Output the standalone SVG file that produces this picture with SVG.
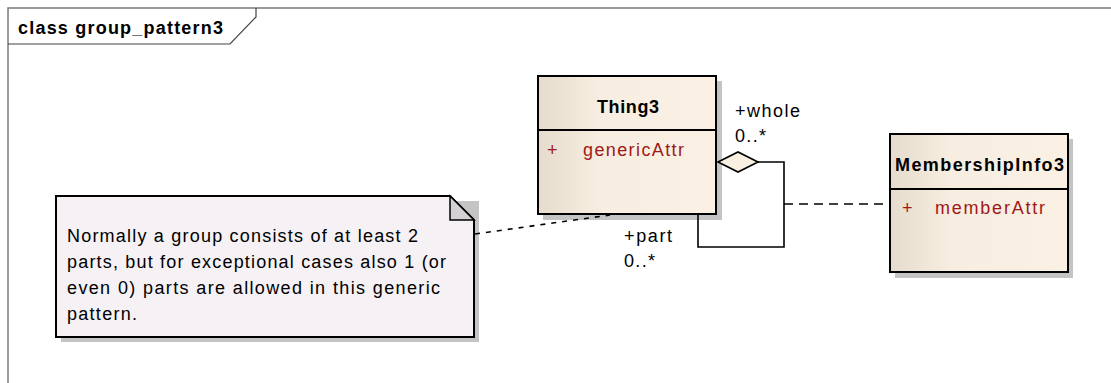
<svg xmlns="http://www.w3.org/2000/svg" width="1111" height="383" viewBox="0 0 1111 383">
<defs>
<linearGradient id="cls" x1="0" y1="0" x2="1" y2="0">
<stop offset="0" stop-color="#E6DCCD"/>
<stop offset="0.35" stop-color="#F7EEE1"/>
<stop offset="1" stop-color="#FAF1E4"/>
</linearGradient>
<style>
text{font-family:"Liberation Sans",Arial,sans-serif;font-size:18px;fill:#000}
.b{font-weight:bold}
.attr{fill:#A01818}
.box{fill:url(#cls);stroke:#000;stroke-width:2}
.shadow{fill:#C4C4C4}
.sep{stroke:#000;stroke-width:2}
.line{fill:none;stroke:#000;stroke-width:1.6}
.dash{fill:none;stroke:#000;stroke-width:1.6;stroke-dasharray:9 6}
.ndash{fill:none;stroke:#000;stroke-width:1.6;stroke-dasharray:5 6}
</style>
</defs>
<rect width="1111" height="383" fill="#fff"/>
<g id="frame">
<path d="M8,383 V8 H1111" fill="none" stroke="#7a7a7a" stroke-width="1.5"/>
<path d="M8,44 H230 L256,17 V8" fill="none" stroke="#444" stroke-width="1.2"/>
<text x="18" y="34" class="b" textLength="205" lengthAdjust="spacing">class group_pattern3</text>
</g>
<g id="Thing3">
<rect class="shadow" x="543" y="81" width="179" height="139"/>
<rect class="box" x="538" y="76" width="178" height="138"/>
<line class="sep" x1="538" y1="130" x2="716" y2="130"/>
<text x="597" y="113" class="b" textLength="62" lengthAdjust="spacing">Thing3</text>
<text x="547" y="156" class="attr">+</text>
<text x="583" y="156" class="attr" textLength="101" lengthAdjust="spacing">genericAttr</text>
</g>
<g id="MembershipInfo3">
<rect class="shadow" x="895" y="139" width="178" height="139"/>
<rect class="box" x="890" y="134" width="178" height="138"/>
<line class="sep" x1="890" y1="189" x2="1068" y2="189"/>
<text x="895" y="171" class="b" textLength="169" lengthAdjust="spacing">MembershipInfo3</text>
<text x="902" y="214" class="attr">+</text>
<text x="935" y="214" class="attr" textLength="110" lengthAdjust="spacing">memberAttr</text>
</g>
<g id="note">
<path d="M61,201 H479 V342 H61 Z" fill="#C4C4C4"/>
<path d="M56,196 H450 L474,220 V337 H56 Z" fill="#F5F1F5" stroke="#000" stroke-width="2"/>
<path d="M450,196 V220 H474 Z" fill="#D3D0D6" stroke="#000" stroke-width="1.5"/>
<text x="67" y="242" textLength="351" lengthAdjust="spacing">Normally a group consists of at least 2</text>
<text x="67" y="268" textLength="379" lengthAdjust="spacing">parts, but for exceptional cases also 1 (or</text>
<text x="67" y="294" textLength="373" lengthAdjust="spacing">even 0) parts are allowed in this generic</text>
<text x="67" y="320" textLength="70" lengthAdjust="spacing">pattern.</text>
</g>
<g id="connectors">
<path class="line" d="M758,162 H784 V247 H698 V215"/>
<polygon points="718,162 738,152 758,162 738,172" fill="#FAF0E2" stroke="#000" stroke-width="1.6"/>
<path class="dash" d="M784,204 H889"/>
<path class="ndash" d="M475,234 L610,215"/>
<text x="735" y="117" textLength="65" lengthAdjust="spacing">+whole</text>
<text x="735" y="142" textLength="31" lengthAdjust="spacing">0..*</text>
<text x="624" y="242" textLength="48" lengthAdjust="spacing">+part</text>
<text x="624" y="267" textLength="31" lengthAdjust="spacing">0..*</text>
</g>
</svg>
